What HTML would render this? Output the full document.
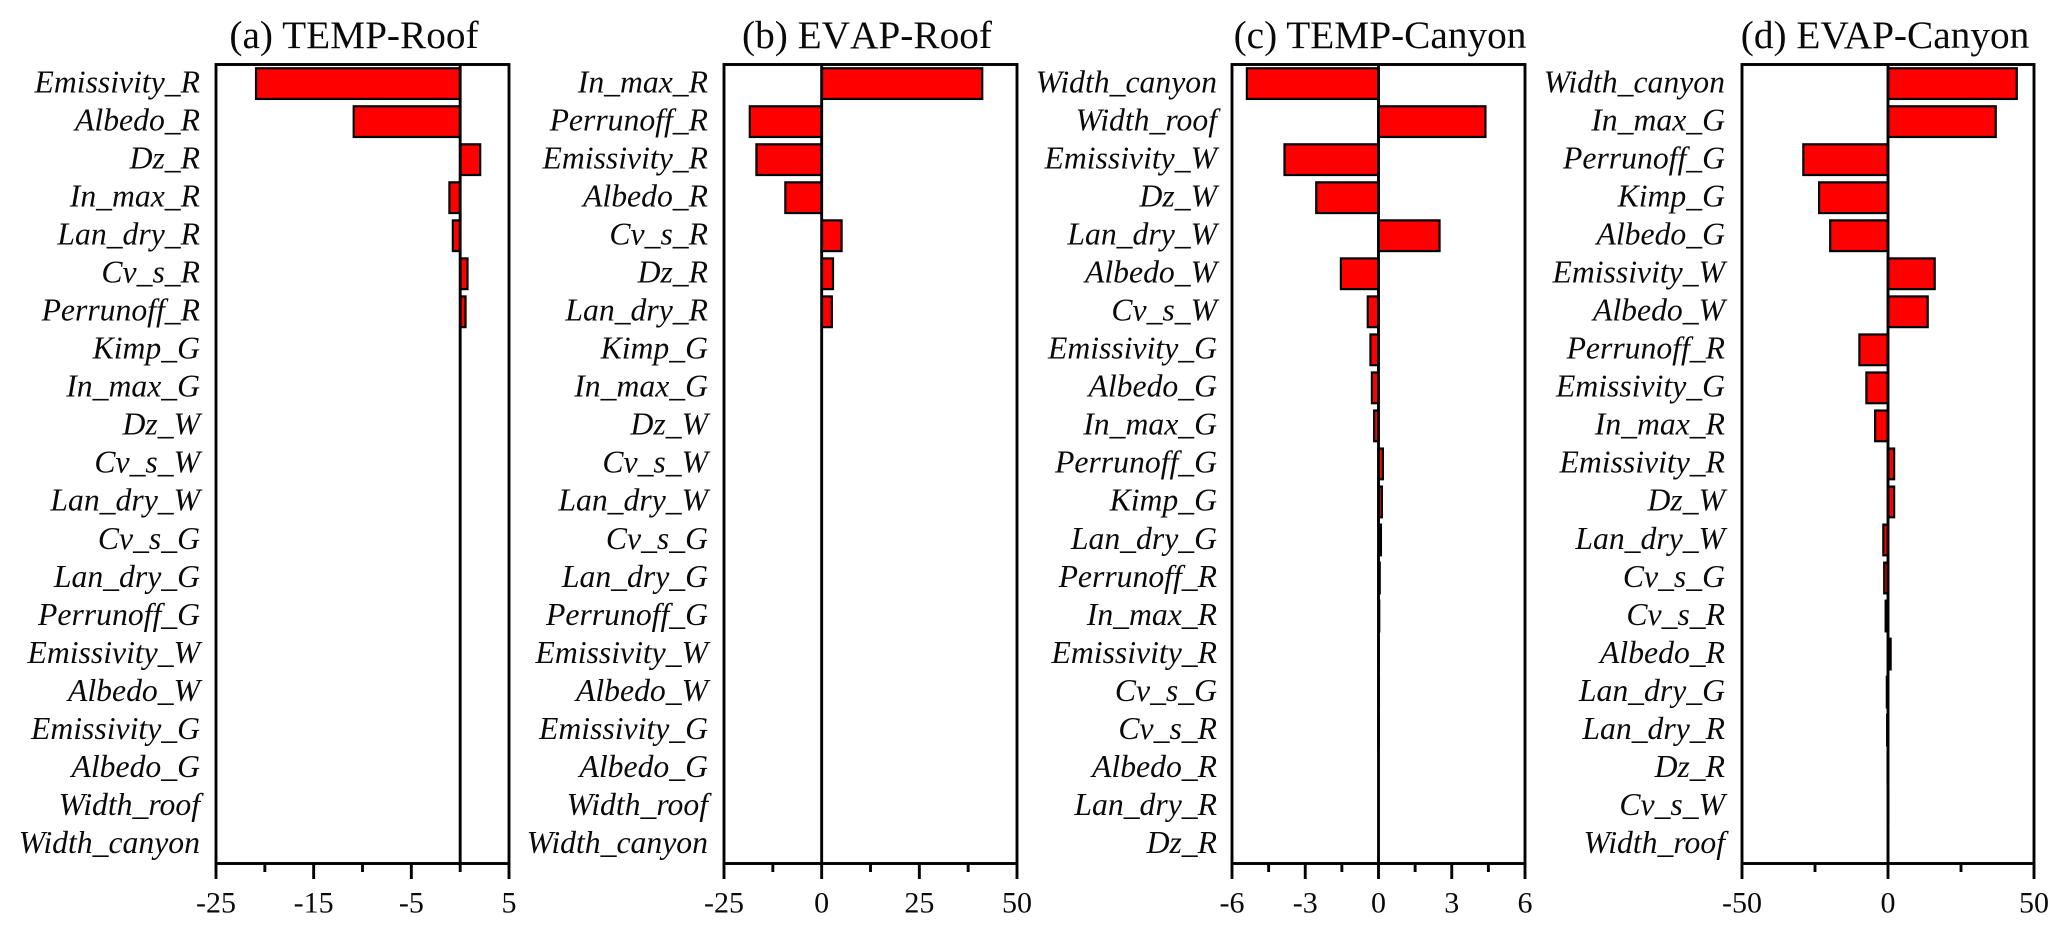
<!DOCTYPE html>
<html lang="en">
<head>
<meta charset="utf-8">
<title>Sensitivity bar charts</title>
<style>
  html, body { margin: 0; padding: 0; background: #fff; width: 2067px; height: 936px; overflow: hidden; }
  svg { display: block; }
  text { font-family: "Liberation Serif", serif; fill: #0a0a0a; }
  .title { font-size: 39.3px; text-anchor: middle; }
  .cat { font-size: 31.7px; font-style: italic; text-anchor: end; }
  .tick { font-size: 30px; text-anchor: middle; }
</style>
</head>
<body>
<svg id="chart" xmlns="http://www.w3.org/2000/svg" width="2067" height="936" viewBox="0 0 2067 936"></svg>
<script>
const titleA = "(a) TEMP-Roof";
const categoriesA = ["Emissivity_R","Albedo_R","Dz_R","In_max_R","Lan_dry_R","Cv_s_R","Perrunoff_R","Kimp_G","In_max_G","Dz_W","Cv_s_W","Lan_dry_W","Cv_s_G","Lan_dry_G","Perrunoff_G","Emissivity_W","Albedo_W","Emissivity_G","Albedo_G","Width_roof","Width_canyon"];
const valuesA = [-20.9,-10.9,2.05,-1.1,-0.75,0.75,0.55,0,0,0,0,0,0,0,0,0,0,0,0,0,0];
const majorTicksA = [-25,-15,-5,5];
const minorTicksA = [-20,-10,0];

const titleB = "(b) EVAP-Roof";
const categoriesB = ["In_max_R","Perrunoff_R","Emissivity_R","Albedo_R","Cv_s_R","Dz_R","Lan_dry_R","Kimp_G","In_max_G","Dz_W","Cv_s_W","Lan_dry_W","Cv_s_G","Lan_dry_G","Perrunoff_G","Emissivity_W","Albedo_W","Emissivity_G","Albedo_G","Width_roof","Width_canyon"];
const valuesB = [41.1,-18.4,-16.7,-9.3,5.1,2.9,2.6,0,0,0,0,0,0,0,0,0,0,0,0,0,0];
const majorTicksB = [-25,0,25,50];
const minorTicksB = [-12.5,12.5,37.5];

const titleC = "(c) TEMP-Canyon";
const categoriesC = ["Width_canyon","Width_roof","Emissivity_W","Dz_W","Lan_dry_W","Albedo_W","Cv_s_W","Emissivity_G","Albedo_G","In_max_G","Perrunoff_G","Kimp_G","Lan_dry_G","Perrunoff_R","In_max_R","Emissivity_R","Cv_s_G","Cv_s_R","Albedo_R","Lan_dry_R","Dz_R"];
const valuesC = [-5.39,4.38,-3.85,-2.55,2.5,-1.54,-0.44,-0.33,-0.27,-0.18,0.18,0.14,0.1,0.05,0.03,0.01,0.01,0.01,0,0,0];
const majorTicksC = [-6,-3,0,3,6];
const minorTicksC = [-4.5,-1.5,1.5,4.5];

const titleD = "(d) EVAP-Canyon";
const categoriesD = ["Width_canyon","In_max_G","Perrunoff_G","Kimp_G","Albedo_G","Emissivity_W","Albedo_W","Perrunoff_R","Emissivity_G","In_max_R","Emissivity_R","Dz_W","Lan_dry_W","Cv_s_G","Cv_s_R","Albedo_R","Lan_dry_G","Lan_dry_R","Dz_R","Cv_s_W","Width_roof"];
const valuesD = [44.1,36.9,-29,-23.6,-19.8,16,13.6,-9.8,-7.4,-4.4,2.1,2.1,-1.6,-1.3,-0.8,0.9,-0.4,-0.3,-0.15,0.1,0.05];
const majorTicksD = [-50,0,50];
const minorTicksD = [-25,25];

const SVG_NS = "http://www.w3.org/2000/svg";
const svg = document.getElementById("chart");

function make(parent, tag, attrs, txt) {
  const n = document.createElementNS(SVG_NS, tag);
  for (const k in attrs) n.setAttribute(k, attrs[k]);
  if (txt !== undefined) n.textContent = txt;
  parent.appendChild(n);
  return n;
}

function drawPanel(p) {
  const top = 64.5, bottom = 863.5;
  const firstCenter = 83.6, rowStep = 38.03, barH = 30.7;
  const axisStroke = 2.9;
  const domainMin = p.majorTicks[0];
  const domainMax = p.majorTicks[p.majorTicks.length - 1];
  const xScale = v => p.left + (v - domainMin) / (domainMax - domainMin) * (p.right - p.left);
  const yScale = i => firstCenter + i * rowStep;

  const g = make(svg, "g", {});
  
  

  const title = make(g, "text", { class: "title", x: p.titleCenter, y: 48 }, p.title);
  title.style.fontKerning = p.titleKerning;
  
  

  p.categories.forEach((c, i) => {
    const label = make(g, "text", { class: "cat", x: p.labelRight, y: yScale(i) + 8.8 }, c);
    
    
  });

  p.values.forEach((v, i) => {
    const x0 = xScale(0), x1 = xScale(v);
    const bar = make(g, "rect", {
      x: Math.min(x0, x1), y: yScale(i) - barH / 2,
      width: Math.abs(x1 - x0), height: barH,
      fill: "#ff0000", stroke: "#000", "stroke-width": 2.2
    });
    
    
  });

  const zeroLine = make(g, "line", {
    x1: xScale(0), x2: xScale(0), y1: top, y2: bottom, stroke: "#000", "stroke-width": axisStroke
  });
  
  

  const frame = make(g, "rect", {
    x: p.left, y: top, width: p.right - p.left, height: bottom - top,
    fill: "none", stroke: "#000", "stroke-width": axisStroke
  });
  
  

  p.minorTicks.forEach(t => {
    const tick = make(g, "line", {
      x1: xScale(t), x2: xScale(t), y1: bottom, y2: bottom + 8.5, stroke: "#000", "stroke-width": axisStroke
    });
    
    
  });

  p.majorTicks.forEach(t => {
    const tick = make(g, "line", {
      x1: xScale(t), x2: xScale(t), y1: bottom, y2: bottom + 15.5, stroke: "#000", "stroke-width": axisStroke
    });
    
    
    const lab = make(g, "text", { class: "tick", x: xScale(t), y: 912.7 }, String(t));
    
    
  });
}

drawPanel({ id: "a", title: titleA, titleKerning: "auto", categories: categoriesA, values: valuesA, majorTicks: majorTicksA, minorTicks: minorTicksA, left: 216, right: 509, labelRight: 200, titleCenter: 354 });
drawPanel({ id: "b", title: titleB, titleKerning: "none", categories: categoriesB, values: valuesB, majorTicks: majorTicksB, minorTicks: minorTicksB, left: 724, right: 1017, labelRight: 708, titleCenter: 867 });
drawPanel({ id: "c", title: titleC, titleKerning: "auto", categories: categoriesC, values: valuesC, majorTicks: majorTicksC, minorTicks: minorTicksC, left: 1232, right: 1525, labelRight: 1217, titleCenter: 1380 });
drawPanel({ id: "d", title: titleD, titleKerning: "auto", categories: categoriesD, values: valuesD, majorTicks: majorTicksD, minorTicks: minorTicksD, left: 1742, right: 2034, labelRight: 1725, titleCenter: 1885 });
</script>
</body>
</html>
